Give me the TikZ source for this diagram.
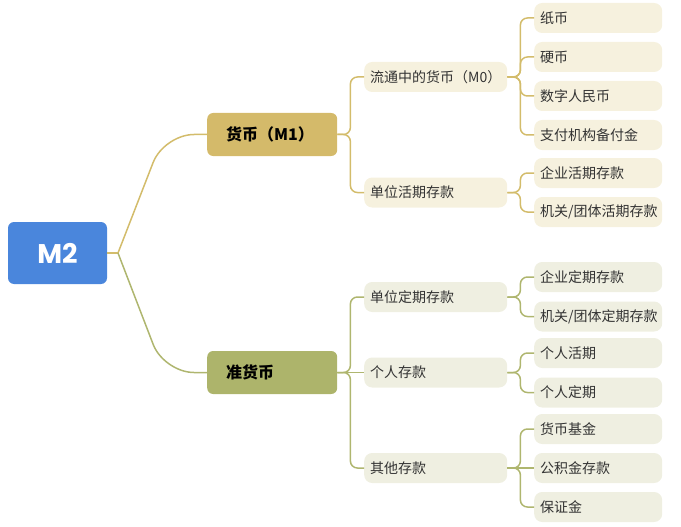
\documentclass[tikz,border=0pt]{standalone}
\usepackage{fontspec}
\setmainfont{Noto Sans CJK SC}
\newfontfamily\popfont{Poppins}
\definecolor{rootblue}{HTML}{4A86DC}
\definecolor{goldfill}{HTML}{D4BA6A}
\definecolor{olivefill}{HTML}{ADB46B}
\definecolor{goldlight}{HTML}{F6F1DE}
\definecolor{olivelight}{HTML}{EFEFE1}
\definecolor{goldline}{HTML}{D3BC6B}
\definecolor{oliveline}{HTML}{AFB66F}
\definecolor{txtgray}{HTML}{333333}
\tikzset{
  rootbox/.style={draw=none, fill=rootblue, rounded corners=6pt, minimum width=99pt, minimum height=62pt, inner sep=0pt, text=white, font=\popfont\bfseries\fontsize{27}{27}\selectfont},
  lonebox/.style={draw=none, rounded corners=6pt, anchor=west, minimum height=43pt, inner xsep=19pt, inner ysep=0pt, text width=92pt, align=left, text=black, font=\bfseries\fontsize{16}{16}\selectfont},
  ltwobox/.style={draw=none, rounded corners=8pt, anchor=west, minimum height=30pt, inner xsep=6pt, inner ysep=0pt, text width=131pt, align=left, text=txtgray, font=\fontsize{14}{14}\selectfont},
  leafbox/.style={draw=none, rounded corners=8pt, anchor=west, minimum height=30pt, inner xsep=6pt, inner ysep=0pt, text width=116pt, align=left, text=txtgray, font=\fontsize{14}{14}\selectfont},
  gline/.style={draw=goldline, line width=1.5pt},
  oline/.style={draw=oliveline, line width=1.5pt},
}
\newcommand\brlink[4]{\draw[#1, rounded corners=7pt] (#2.east) -- (#3) -- (#3 |- #4.west) -- (#4.west);}
\begin{document}
\begin{tikzpicture}[x=1pt, y=-1pt]
\useasboundingbox (0,0) rectangle (681,527);
% root
\node[rootbox] (m2) at (57.5,253) {M2};
% level 1
\node[lonebox, fill=goldfill] (m1) at (207,134.5) {货币（M1）};
\node[lonebox, fill=olivefill] (qm) at (207,372.5) {准货币};
% level 2
\node[ltwobox, fill=goldlight] (m0) at (364,77) {流通中的货币（M0）};
\node[ltwobox, fill=goldlight] (dwhq) at (364,192.5) {单位活期存款};
\node[ltwobox, fill=olivelight] (dwdq) at (364,297) {单位定期存款};
\node[ltwobox, fill=olivelight] (grck) at (364,372.5) {个人存款};
\node[ltwobox, fill=olivelight] (qtck) at (364,468) {其他存款};
% leaves
\node[leafbox, fill=goldlight] (zb) at (534,18) {纸币};
\node[leafbox, fill=goldlight] (yb) at (534,57) {硬币};
\node[leafbox, fill=goldlight] (szrmb) at (534,96) {数字人民币};
\node[leafbox, fill=goldlight] (zfjg) at (534,135) {支付机构备付金};
\node[leafbox, fill=goldlight] (qyhq) at (534,173) {企业活期存款};
\node[leafbox, fill=goldlight] (jghq) at (534,212) {机关/团体活期存款};
\node[leafbox, fill=olivelight] (qydq) at (534,277) {企业定期存款};
\node[leafbox, fill=olivelight] (jgdq) at (534,316.5) {机关/团体定期存款};
\node[leafbox, fill=olivelight] (grhq) at (534,353) {个人活期};
\node[leafbox, fill=olivelight] (grdq) at (534,392.5) {个人定期};
\node[leafbox, fill=olivelight] (hbjj) at (534,429) {货币基金};
\node[leafbox, fill=olivelight] (gjj) at (534,468) {公积金存款};
\node[leafbox, fill=olivelight] (bzj) at (534,507) {保证金};
% root connectors
\coordinate (j0) at (118,253);
\coordinate (k1) at (164,134.5);
\coordinate (k2) at (164,372.5);
\draw[gline] (m2.east) -- (j0);
\draw[gline, rounded corners=30pt] (j0) -- (k1) -- (m1.west);
\draw[oline, rounded corners=30pt] (j0) -- (k2) -- (qm.west);
% level 1 -> level 2
\coordinate (b1) at ([xshift=13pt]m1.east);
\coordinate (b2) at ([xshift=13pt]qm.east);
\brlink{gline}{m1}{b1}{m0}
\brlink{gline}{m1}{b1}{dwhq}
\brlink{oline}{qm}{b2}{dwdq}
\draw[oline] (qm.east) -- (grck.west);
\brlink{oline}{qm}{b2}{qtck}
% level 2 -> leaves
\coordinate (c1) at ([xshift=13pt]m0.east);
\coordinate (c2) at ([xshift=13pt]dwhq.east);
\coordinate (c3) at ([xshift=13pt]dwdq.east);
\coordinate (c4) at ([xshift=13pt]grck.east);
\coordinate (c5) at ([xshift=13pt]qtck.east);
\brlink{gline}{m0}{c1}{zb}
\brlink{gline}{m0}{c1}{yb}
\brlink{gline}{m0}{c1}{szrmb}
\brlink{gline}{m0}{c1}{zfjg}
\brlink{gline}{dwhq}{c2}{qyhq}
\brlink{gline}{dwhq}{c2}{jghq}
\brlink{oline}{dwdq}{c3}{qydq}
\brlink{oline}{dwdq}{c3}{jgdq}
\brlink{oline}{grck}{c4}{grhq}
\brlink{oline}{grck}{c4}{grdq}
\brlink{oline}{qtck}{c5}{hbjj}
\draw[oline] (qtck.east) -- (gjj.west);
\brlink{oline}{qtck}{c5}{bzj}
\end{tikzpicture}
\end{document}
